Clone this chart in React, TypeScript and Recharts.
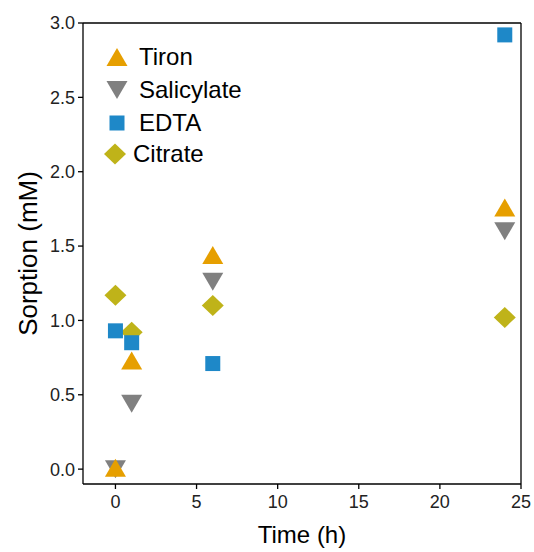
import { ScatterChart, Scatter, XAxis, YAxis, ReferenceLine } from 'recharts';

const FONT = '"Liberation Sans", Arial, sans-serif';

const TIME = [0, 1, 6, 24];
const TIRON = [0.01, 0.73, 1.44, 1.76];
const SALICYLATE = [0.0, 0.44, 1.26, 1.6];
const EDTA = [0.93, 0.85, 0.71, 2.92];
const CITRATE = [1.17, 0.92, 1.1, 1.02];

const X_TICKS = [0, 5, 10, 15, 20, 25];
const Y_TICKS = [0, 0.5, 1, 1.5, 2, 2.5, 3];

const COLORS = {
  tiron: '#E69F00',
  salicylate: '#808080',
  edta: '#1E88C8',
  citrate: '#BFB319',
};

const toPoints = (ys: number[]) => TIME.map((t, i) => ({ x: t, y: ys[i] }));

function UpTriangle({ cx, cy, fill }: any) {
  return <polygon points={`${cx},${cy - 9} ${cx - 10.5},${cy + 9} ${cx + 10.5},${cy + 9}`} fill={fill} />;
}
function DownTriangle({ cx, cy, fill }: any) {
  return <polygon points={`${cx - 10.5},${cy - 9} ${cx + 10.5},${cy - 9} ${cx},${cy + 9}`} fill={fill} />;
}
function Square({ cx, cy, fill }: any) {
  return <rect x={cx - 7.5} y={cy - 7.5} width={15} height={15} fill={fill} />;
}
function Diamond({ cx, cy, fill }: any) {
  return <polygon points={`${cx},${cy - 10.5} ${cx + 11},${cy} ${cx},${cy + 10.5} ${cx - 11},${cy}`} fill={fill} />;
}

const LEGEND = [
  { name: 'Tiron', shape: UpTriangle, color: COLORS.tiron, top: 57, mx: 117, tx: 139 },
  { name: 'Salicylate', shape: DownTriangle, color: COLORS.salicylate, top: 90, mx: 117, tx: 139 },
  { name: 'EDTA', shape: Square, color: COLORS.edta, top: 123, mx: 117, tx: 139 },
  { name: 'Citrate', shape: Diamond, color: COLORS.citrate, top: 154, mx: 115, tx: 133 },
];

export default function App() {
  return (
    <div style={{ position: 'absolute', left: 0, top: 0, width: 534, height: 552, background: '#fff', fontFamily: FONT }}>
      <ScatterChart width={534} height={552} margin={{ top: 23, right: 13, left: 13, bottom: 8 }}>
        <XAxis
          type="number"
          dataKey="x"
          domain={[-2, 25]}
          ticks={X_TICKS}
          allowDataOverflow
          height={60}
          stroke="#000"
          strokeWidth={1.3}
          tickSize={5}
          tickMargin={6}
          tick={{ fill: '#222', fontSize: 18, fontFamily: FONT }}
          tickLine={{ stroke: '#000' }}
          label={{ value: 'Time (h)', position: 'insideBottom', offset: 1, fontSize: 24, fill: '#000', fontFamily: FONT }}
        />
        <YAxis
          type="number"
          dataKey="y"
          domain={[-0.1, 3]}
          ticks={Y_TICKS}
          allowDataOverflow
          width={70}
          stroke="#000"
          strokeWidth={1.3}
          tickSize={5}
          tickMargin={3}
          tickFormatter={(v: number) => v.toFixed(1)}
          tick={{ fill: '#222', fontSize: 18, fontFamily: FONT }}
          tickLine={{ stroke: '#000' }}
          label={{ value: 'Sorption (mM)', angle: -90, position: 'insideLeft', offset: 15, fontSize: 26, fill: '#000', fontFamily: FONT, style: { textAnchor: 'middle' } }}
        />
        <ReferenceLine y={3} stroke="#000" strokeWidth={1.3} />
        <ReferenceLine x={25} stroke="#000" strokeWidth={1.3} />
        <Scatter name="Salicylate" data={toPoints(SALICYLATE)} fill={COLORS.salicylate} shape={DownTriangle} isAnimationActive={false} />
        <Scatter name="Tiron" data={toPoints(TIRON)} fill={COLORS.tiron} shape={UpTriangle} isAnimationActive={false} />
        <Scatter name="Citrate" data={toPoints(CITRATE)} fill={COLORS.citrate} shape={Diamond} isAnimationActive={false} />
        <Scatter name="EDTA" data={toPoints(EDTA)} fill={COLORS.edta} shape={Square} isAnimationActive={false} />
      </ScatterChart>
      {LEGEND.map((e) => {
        const Shape = e.shape;
        return (
          <div key={e.name}>
            <svg style={{ position: 'absolute', left: e.mx - 12, top: e.top - 12 }} width={24} height={24}>
              <Shape cx={12} cy={12} fill={e.color} />
            </svg>
            <div style={{ position: 'absolute', left: e.tx, top: e.top - 15, fontSize: 24, lineHeight: '30px', color: '#000' }}>
              {e.name}
            </div>
          </div>
        );
      })}
    </div>
  );
}
